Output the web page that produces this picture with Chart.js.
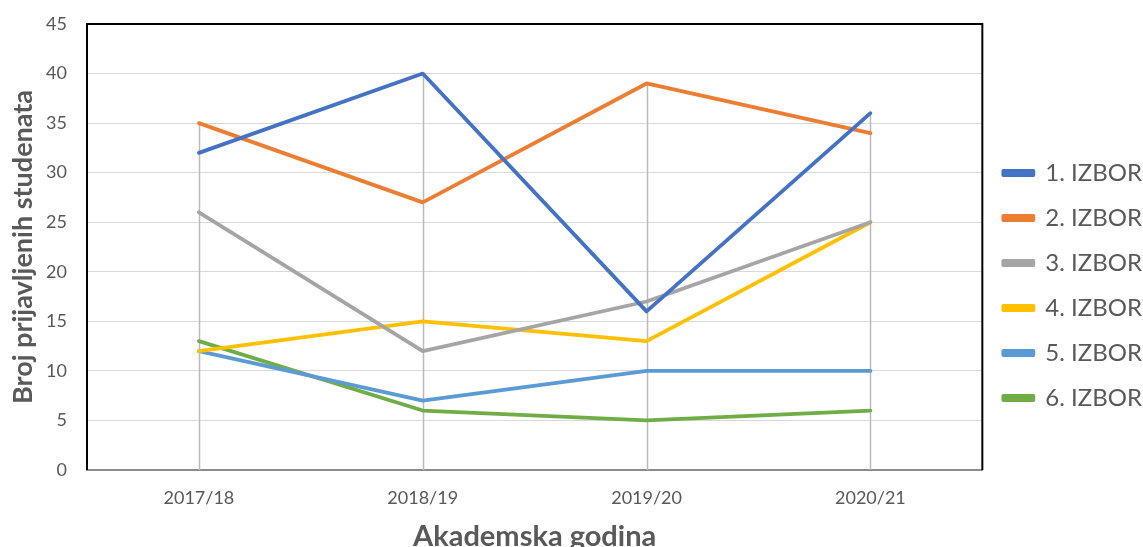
<!DOCTYPE html>
<html>
<head>
<meta charset="utf-8">
<script src="https://cdn.jsdelivr.net/npm/chart.js@4.4.1/dist/chart.umd.min.js"></script>
<style>
  html, body { margin: 0; padding: 0; background: #ffffff; }
  #wrap { width: 1143px; height: 547px; }
</style>
</head>
<body>
<div id="wrap"><canvas id="c" width="1143" height="547"></canvas></div>
<script>
// Academic years on the category axis
const years = ['2017/18', '2018/19', '2019/20', '2020/21'];

// Number of applicants per choice ("izbor")
const izbor1 = [32, 40, 16, 36];
const izbor2 = [35, 27, 39, 34];
const izbor3 = [26, 12, 17, 25];
const izbor4 = [12, 15, 13, 25];
const izbor5 = [12, 7, 10, 10];
const izbor6 = [13, 6, 5, 6];

const seriesNames = ['1. IZBOR', '2. IZBOR', '3. IZBOR', '4. IZBOR', '5. IZBOR', '6. IZBOR'];
const seriesValues = [izbor1, izbor2, izbor3, izbor4, izbor5, izbor6];
const seriesColors = ['#4472C4', '#ED7D31', '#A5A5A5', '#FFC000', '#5B9BD5', '#70AD47'];

// Y axis tick settings
const yMin = 0, yMax = 45, yStep = 5;

const FONT = 'Lato, "Open Sans", sans-serif';
const TEXT = '#595959';

// Plot frame plus vertical drop lines from each category's highest point
const frameAndDropLines = {
  id: 'frameAndDropLines',
  beforeDatasetsDraw(chart) {
    const { ctx, chartArea: a, scales } = chart;
    const x = scales.x, y = scales.y;
    ctx.save();
    ctx.strokeStyle = '#bababa';
    ctx.lineWidth = 1.5;
    years.forEach((_, i) => {
      const top = Math.max(...seriesValues.map(s => s[i]));
      const px = Math.round(x.getPixelForValue(i)) + 0.5;
      ctx.beginPath();
      ctx.moveTo(px, y.getPixelForValue(top));
      ctx.lineTo(px, y.getPixelForValue(yMin));
      ctx.stroke();
    });
    ctx.strokeStyle = '#000000';
    ctx.lineWidth = 2;
    ctx.beginPath();
    ctx.moveTo(a.left, a.bottom);
    ctx.lineTo(a.left, a.top);
    ctx.lineTo(a.right, a.top);
    ctx.lineTo(a.right, a.bottom);
    ctx.stroke();
    ctx.restore();
  }
};

new Chart(document.getElementById('c'), {
  type: 'line',
  data: {
    labels: years,
    datasets: seriesValues.map((vals, i) => ({
      label: seriesNames[i],
      data: vals,
      borderColor: seriesColors[i],
      backgroundColor: seriesColors[i],
      borderWidth: 3.8,
      pointRadius: 0,
      pointHoverRadius: 0,
      tension: 0,
      fill: false,
      borderJoinStyle: 'round',
      borderCapStyle: 'round'
    }))
  },
  options: {
    responsive: false,
    animation: false,
    events: [],
    layout: { padding: { top: 24, right: -9, bottom: 0, left: 0 } },
    plugins: {
      legend: {
        position: 'right',
        align: 'center',
        labels: {
          boxWidth: 30,
          boxHeight: 4,
          padding: 21,
          color: TEXT,
          font: { family: FONT, size: 24 }
        }
      },
      tooltip: { enabled: false }
    },
    scales: {
      x: {
        offset: true,
        grid: { display: false, drawTicks: false },
        border: { display: true, color: '#8c8c8c', width: 2 },
        ticks: { color: TEXT, font: { family: FONT, size: 18 }, padding: 17, maxRotation: 0 },
        title: {
          display: true,
          text: 'Akademska godina',
          color: TEXT,
          font: { family: FONT, size: 29, weight: 'bold' },
          padding: { top: 4, bottom: -7 }
        },
        afterFit(scale) {
          scale.height = 77;
          scale.paddingLeft = 0;
          scale.paddingRight = 0;
        }
      },
      y: {
        min: yMin,
        max: yMax,
        ticks: { stepSize: yStep, color: TEXT, font: { family: FONT, size: 18 }, padding: 20 },
        grid: { color: '#d9d9d9', lineWidth: 1, drawTicks: false },
        border: { display: false },
        title: {
          display: true,
          text: 'Broj prijavljenih studenata',
          color: TEXT,
          font: { family: FONT, size: 27, weight: 'bold' },
          padding: { top: 7, bottom: 0 }
        },
        afterFit(scale) {
          scale.width = 87;
          scale.paddingTop = 0;
          scale.paddingBottom = 0;
        }
      }
    }
  },
  plugins: [frameAndDropLines]
});
</script>
</body>
</html>
